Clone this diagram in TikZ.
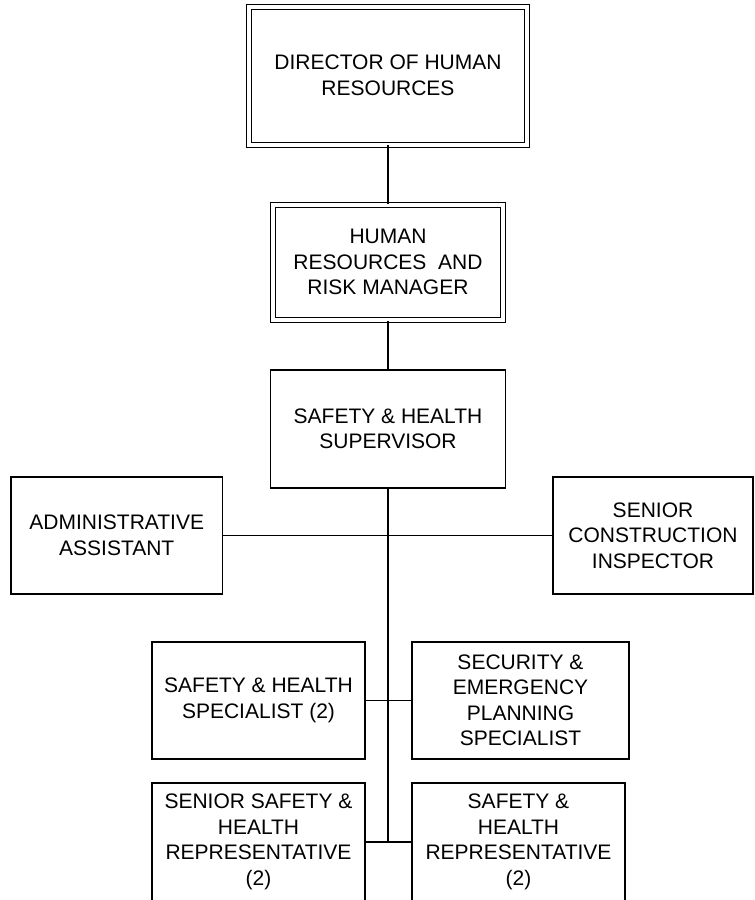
\documentclass[tikz,border=0pt]{standalone}
\usepackage{fontspec}
\setmainfont{Liberation Sans}
\begin{document}
\begin{tikzpicture}[x=1pt,y=-1pt,
  box/.style={draw=black, line width=1.2pt, rectangle, inner sep=0pt, align=center,
    font=\fontsize{21}{25.5}\selectfont},
  dbox/.style={box, line width=1pt, double=white, double distance=4pt},
  conn/.style={line width=1.2pt}]
\useasboundingbox (0,0) rectangle (755,900);
\clip (0,0) rectangle (755,900);
\fill[white] (0,0) rectangle (755,900);
\node[dbox, minimum width=278.5pt, minimum height=138pt] (dir) at (388,75.5) {DIRECTOR OF HUMAN\\RESOURCES};
\node[dbox, minimum width=229.5pt, minimum height=115.5pt] (hr) at (388,262.25) {HUMAN\\RESOURCES~ AND\\RISK MANAGER};
\node[box, minimum width=235.5pt, minimum height=118pt] (sup) at (388,429) {SAFETY \& HEALTH\\SUPERVISOR};
\node[box, minimum width=211.5pt, minimum height=117pt] (adm) at (116.75,535.5) {ADMINISTRATIVE\\ASSISTANT};
\node[box, minimum width=200pt, minimum height=117pt] (sci) at (653,535.5) {SENIOR\\CONSTRUCTION\\INSPECTOR};
\node[box, minimum width=213pt, minimum height=117pt] (spec) at (258.5,700.5) {SAFETY \& HEALTH\\SPECIALIST (2)};
\node[box, minimum width=217pt, minimum height=117pt] (sec) at (520.5,700.5) {SECURITY \&\\EMERGENCY\\PLANNING\\SPECIALIST};
\node[box, minimum width=213pt, minimum height=118pt] (srrep) at (258.5,842) {SENIOR SAFETY \&\\HEALTH\\REPRESENTATIVE\\(2)};
\node[box, minimum width=213pt, minimum height=118pt] (rep) at (518.5,842) {SAFETY \&\\HEALTH\\REPRESENTATIVE\\(2)};
\coordinate (spineend) at (388,842);
\draw[conn] (dir.south) -- (hr.north);
\draw[conn] (hr.south) -- (sup.north);
\draw[conn] (sup.south) -- (spineend);
\draw[conn] (adm.east) -- (sci.west);
\draw[conn] (spec.east) -- (sec.west);
\draw[conn] (srrep.east) -- (rep.west);
\end{tikzpicture}
\end{document}
